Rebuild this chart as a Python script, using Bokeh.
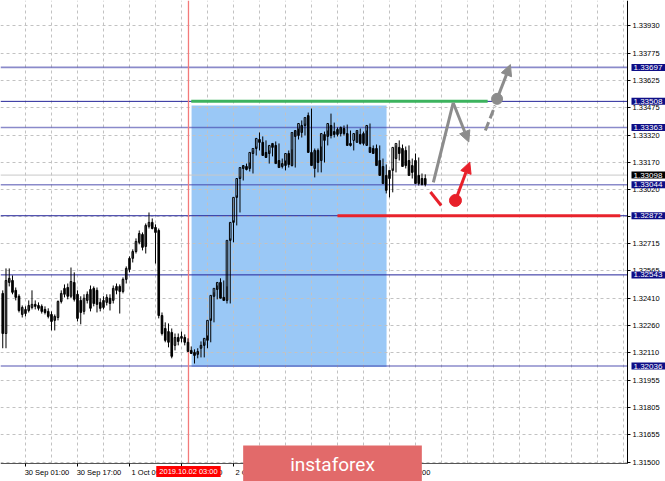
from bokeh.plotting import figure
from bokeh.models import Range1d, FixedTicker, Label, Arrow, NormalHead
from bokeh.embed import file_html
from bokeh.resources import INLINE

# ---------------- data ----------------
bars = list(range(-7, 124))  # hourly bar index, 0 = 30 Sep 01:00
opens = [1.32440, 1.32217, 1.32501, 1.32512, 1.32457, 1.32424, 1.32323, 1.32328, 1.32345, 1.32362,
         1.32379, 1.32373, 1.32368, 1.32351, 1.32340, 1.32323, 1.32290, 1.32306, 1.32395, 1.32435,
         1.32473, 1.32424, 1.32501, 1.32435, 1.32401, 1.32340, 1.32401, 1.32357, 1.32468, 1.32457,
         1.32390, 1.32362, 1.32390, 1.32413, 1.32401, 1.32457, 1.32479, 1.32451, 1.32518, 1.32573,
         1.32635, 1.32673, 1.32724, 1.32768, 1.32701, 1.32813, 1.32835, 1.32807, 1.32790, 1.32317,
         1.32245, 1.32168, 1.32223, 1.32151, 1.32195, 1.32190, 1.32195, 1.32168, 1.32123, 1.32112,
         1.32101, 1.32135, 1.32151, 1.32179, 1.32290, 1.32424, 1.32462, 1.32501, 1.32418, 1.32401,
         1.32735, 1.32835, 1.32974, 1.33079, 1.33135, 1.33146, 1.33135, 1.33218, 1.33246, 1.33296,
         1.33280, 1.33224, 1.33218, 1.33252, 1.33263, 1.33179, 1.33146, 1.33151, 1.33218, 1.33151,
         1.33313, 1.33318, 1.33335, 1.33374, 1.33429, 1.33224, 1.33135, 1.33235, 1.33179, 1.33291,
         1.33313, 1.33374, 1.33340, 1.33324, 1.33329, 1.33357, 1.33329, 1.33274, 1.33291, 1.33280,
         1.33324, 1.33274, 1.33263, 1.33252, 1.33246, 1.33246, 1.33179, 1.33146, 1.33096, 1.33079,
         1.33124, 1.33190, 1.33252, 1.33246, 1.33235, 1.33179, 1.33151, 1.33179, 1.33096, 1.33079,
         1.33079]
highs = [1.32457, 1.32579, 1.32579, 1.32540, 1.32473, 1.32435, 1.32373, 1.32368, 1.32401, 1.32457,
         1.32401, 1.32390, 1.32379, 1.32368, 1.32357, 1.32340, 1.32323, 1.32401, 1.32457, 1.32490,
         1.32495, 1.32584, 1.32557, 1.32457, 1.32424, 1.32435, 1.32451, 1.32484, 1.32479, 1.32473,
         1.32413, 1.32424, 1.32435, 1.32435, 1.32484, 1.32495, 1.32490, 1.32529, 1.32590, 1.32646,
         1.32685, 1.32746, 1.32790, 1.32779, 1.32829, 1.32890, 1.32857, 1.32824, 1.32801, 1.32334,
         1.32279, 1.32273, 1.32245, 1.32217, 1.32217, 1.32228, 1.32212, 1.32190, 1.32145, 1.32129,
         1.32135, 1.32173, 1.32168, 1.32206, 1.32301, 1.32446, 1.32484, 1.32524, 1.32512, 1.32479,
         1.32746, 1.32846, 1.32985, 1.33090, 1.33151, 1.33162, 1.33168, 1.33235, 1.33257, 1.33335,
         1.33313, 1.33291, 1.33235, 1.33274, 1.33285, 1.33274, 1.33190, 1.33179, 1.33235, 1.33241,
         1.33346, 1.33357, 1.33402, 1.33385, 1.33446, 1.33468, 1.33246, 1.33246, 1.33257, 1.33340,
         1.33346, 1.33440, 1.33390, 1.33363, 1.33368, 1.33374, 1.33379, 1.33346, 1.33291, 1.33340,
         1.33357, 1.33340, 1.33346, 1.33385, 1.33263, 1.33268, 1.33263, 1.33190, 1.33157, 1.33124,
         1.33135, 1.33263, 1.33291, 1.33268, 1.33257, 1.33263, 1.33190, 1.33218, 1.33196, 1.33107,
         1.33102]
lows = [1.32135, 1.32135, 1.32479, 1.32435, 1.32401, 1.32334, 1.32306, 1.32312, 1.32334, 1.32351,
        1.32351, 1.32345, 1.32328, 1.32323, 1.32301, 1.32234, 1.32234, 1.32290, 1.32384, 1.32418,
        1.32407, 1.32413, 1.32395, 1.32284, 1.32268, 1.32323, 1.32384, 1.32340, 1.32368, 1.32334,
        1.32340, 1.32351, 1.32373, 1.32345, 1.32384, 1.32435, 1.32328, 1.32440, 1.32495, 1.32557,
        1.32612, 1.32662, 1.32713, 1.32679, 1.32662, 1.32801, 1.32796, 1.32606, 1.32301, 1.32206,
        1.32168, 1.32140, 1.32079, 1.32123, 1.32151, 1.32168, 1.32151, 1.32168, 1.32106, 1.32050,
        1.32079, 1.32084, 1.32084, 1.32135, 1.32168, 1.32279, 1.32407, 1.32446, 1.32401, 1.32384,
        1.32384, 1.32724, 1.32818, 1.32890, 1.33068, 1.33124, 1.33118, 1.33107, 1.33207, 1.33235,
        1.33263, 1.33196, 1.33162, 1.33202, 1.33241, 1.33151, 1.33135, 1.33124, 1.33140, 1.33146,
        1.33140, 1.33296, 1.33307, 1.33318, 1.33363, 1.33218, 1.33085, 1.33113, 1.33113, 1.33168,
        1.33263, 1.33302, 1.33307, 1.33313, 1.33313, 1.33318, 1.33307, 1.33257, 1.33235, 1.33280,
        1.33268, 1.33263, 1.33263, 1.33252, 1.33218, 1.33207, 1.33135, 1.33090, 1.32996, 1.32974,
        1.33002, 1.33113, 1.33179, 1.33207, 1.33135, 1.33124, 1.33079, 1.33102, 1.33040, 1.33040,
        1.33035]
closes = [1.32217, 1.32512, 1.32524, 1.32446, 1.32418, 1.32345, 1.32362, 1.32351, 1.32373, 1.32379,
          1.32368, 1.32357, 1.32340, 1.32334, 1.32312, 1.32284, 1.32312, 1.32395, 1.32440, 1.32468,
          1.32424, 1.32506, 1.32407, 1.32301, 1.32334, 1.32413, 1.32435, 1.32462, 1.32384, 1.32379,
          1.32357, 1.32401, 1.32418, 1.32384, 1.32468, 1.32479, 1.32451, 1.32518, 1.32579, 1.32635,
          1.32673, 1.32729, 1.32773, 1.32696, 1.32818, 1.32835, 1.32801, 1.32779, 1.32317, 1.32217,
          1.32179, 1.32228, 1.32090, 1.32195, 1.32173, 1.32201, 1.32168, 1.32117, 1.32106, 1.32095,
          1.32117, 1.32151, 1.32190, 1.32290, 1.32429, 1.32468, 1.32501, 1.32413, 1.32401, 1.32735,
          1.32835, 1.32974, 1.33079, 1.33140, 1.33151, 1.33129, 1.33224, 1.33246, 1.33302, 1.33280,
          1.33207, 1.33196, 1.33263, 1.33274, 1.33162, 1.33140, 1.33162, 1.33218, 1.33157, 1.33335,
          1.33346, 1.33385, 1.33374, 1.33418, 1.33224, 1.33151, 1.33235, 1.33168, 1.33329, 1.33324,
          1.33385, 1.33318, 1.33324, 1.33352, 1.33363, 1.33329, 1.33263, 1.33263, 1.33329, 1.33346,
          1.33274, 1.33329, 1.33374, 1.33224, 1.33218, 1.33151, 1.33096, 1.33051, 1.33013, 1.33124,
          1.33252, 1.33274, 1.33218, 1.33146, 1.33151, 1.33096, 1.33113, 1.33051, 1.33051, 1.33046,
          1.33046]

price_ticks = [1.31500, 1.31655, 1.31805, 1.31955, 1.32110, 1.32260, 1.32410, 1.32565, 1.32715,
               1.32870, 1.33020, 1.33170, 1.33320, 1.33475, 1.33625, 1.33775, 1.33930]
price_tick_labels = ["1.31500", "1.31655", "1.31805", "1.31955", "1.32110", "1.32260", "1.32410",
                     "1.32565", "1.32715", "1.32870", "1.33020", "1.33170", "1.33320", "1.33475",
                     "1.33625", "1.33775", "1.33930"]
time_ticks = [-16, 0, 16, 32, 48, 64, 80, 96, 112]
time_tick_labels = ["27 Sep 09:00", "30 Sep 01:00", "30 Sep 17:00", "1 Oct 09:00", "2 Oct 01:00",
                    "2 Oct 17:00", "3 Oct 09:00", "4 Oct 01:00", "4 Oct 17:00"]
time_grid = [-8, 0, 8, 16, 24, 32, 40, 48, 56, 64, 72, 80, 88, 96, 104, 112, 120, 128, 136, 144,
             152, 160, 168, 176, 184]

dark_levels = [1.33508, 1.32872, 1.32543]
light_levels = [1.33697, 1.33363, 1.33044, 1.32036]
level_labels = ["1.33697", "1.33508", "1.33363", "1.33044", "1.32872", "1.32543", "1.32036"]
level_prices = [1.33697, 1.33508, 1.33363, 1.33044, 1.32872, 1.32543, 1.32036]
bid_price = 1.33098
bid_label = "1.33098"

marker_bar = 50.15
marker_label = "2019.10.02 03:00"

zone_left, zone_right, zone_top, zone_bottom = 51.1, 111.1, 1.33485, 1.32030
green_x, green_y = [51.0, 142.2], [1.33508, 1.33508]
red_x, red_y = [96.0, 183.0], [1.32872, 1.32872]

gray_path_x = [125.5, 131.6]
gray_path_y = [1.33057, 1.33500]
gray_arrow1 = (131.6, 1.33500, 136.4, 1.33282)
gray_dash_x = [141.5, 144.5]
gray_dash_y = [1.33346, 1.33485]
gray_dot = (145.1, 1.33522)
gray_arrow2 = (145.1, 1.33522, 149.2, 1.33713)
red_dash_x = [124.6, 127.9]
red_dash_y = [1.33004, 1.32929]
red_dot = (132.3, 1.32957)
red_arrow = (132.3, 1.32957, 136.7, 1.33170)

watermark_text = "instaforex"

# ---------------- geometry ----------------
FONT = "Liberation Sans"
W, H = 665, 481
CHART_W, CHART_H = 627, 463           # price area; the scales live to the right / below
BAR_PX = 3.25                         # pixels per hourly bar
X0 = -7.69
X_EDGE = X0 + CHART_W / BAR_PX
X1 = X0 + W / BAR_PX
Y1 = 1.34069
PX_PER_PRICE = 463 / 0.02575
Y_EDGE = Y1 - CHART_H / PX_PER_PRICE
Y0 = Y1 - H / PX_PER_PRICE

p = figure(width=W, height=H, output_backend="svg", toolbar_location=None,
           x_range=Range1d(X0, X1), y_range=Range1d(Y0, Y1),
           y_axis_location="right", min_border=0,
           min_border_left=0, min_border_top=0, min_border_right=0, min_border_bottom=0)
p.outline_line_color = None
p.background_fill_color = "white"
p.border_fill_color = "white"

# axes placed at the edge of the price area
label_shift = 21.5 / BAR_PX
label_pos = [t + label_shift for t in time_ticks]
p.yaxis.fixed_location = X_EDGE
p.yaxis.bounds = (Y_EDGE, Y1)
p.yaxis.ticker = FixedTicker(ticks=price_ticks, minor_ticks=[])
p.yaxis.major_label_overrides = dict(zip(price_ticks, price_tick_labels))
p.xaxis.fixed_location = Y_EDGE
p.xaxis.bounds = (X0 - 20, X_EDGE)
p.xaxis.ticker = FixedTicker(ticks=label_pos, minor_ticks=time_ticks)
p.xaxis.major_label_overrides = dict(zip(label_pos, time_tick_labels))
for ax in (p.xaxis, p.yaxis):
    ax.axis_line_color = "black"
    ax.major_tick_line_color = "black"
    ax.major_tick_in = 0
    ax.major_tick_out = 3
    ax.minor_tick_line_color = None
    ax.major_label_text_font = FONT
    ax.major_label_text_font_size = "7.5px"
    ax.major_label_text_color = "black"
    ax.major_label_standoff = 2
p.xaxis.major_tick_line_color = None
p.xaxis.minor_tick_line_color = "black"
p.xaxis.minor_tick_in = 0
p.xaxis.minor_tick_out = 3
p.xaxis.major_label_standoff = 1
p.xaxis.axis_line_color = "#555555"

# grid (dashed), limited to the price area
p.xgrid.ticker = FixedTicker(ticks=time_grid)
grid_ok = True
try:
    p.xgrid.bounds = (X0, X_EDGE)
    p.xgrid.cross_bounds = (Y_EDGE, Y1)
    p.ygrid.bounds = (Y_EDGE, Y1)
    p.ygrid.cross_bounds = (X0, X_EDGE)
except Exception:
    grid_ok = False
for g in (p.xgrid, p.ygrid):
    g.grid_line_color = "#c2c2c2" if grid_ok else None
    g.grid_line_dash = "3 3"
    g.grid_line_width = 1
if not grid_ok:
    gx = [t for t in time_grid if X0 < t < X_EDGE]
    p.segment(x0=gx, y0=[Y_EDGE] * len(gx), x1=gx, y1=[Y1] * len(gx),
              line_color="#c2c2c2", line_dash="3 3", level="underlay")
    p.segment(x0=[X0] * len(price_ticks), y0=price_ticks, x1=[X_EDGE] * len(price_ticks),
              y1=price_ticks, line_color="#c2c2c2", line_dash="3 3", level="underlay")

# analysis zone (drawn below grid)
p.quad(left=[zone_left], right=[zone_right], top=[zone_top], bottom=[zone_bottom],
       fill_color="#9ac8f6", line_color=None, level="image")

# horizontal levels
nl, nd = len(light_levels), len(dark_levels)
p.segment(x0=[X0] * nl, y0=light_levels, x1=[X_EDGE] * nl, y1=light_levels,
          line_color="#3c3ca6", line_alpha=0.6, line_width=1.6)
p.segment(x0=[X0] * nd, y0=dark_levels, x1=[X_EDGE] * nd, y1=dark_levels,
          line_color="#24249a", line_width=1)
p.segment(x0=[X0], y0=[bid_price], x1=[X_EDGE], y1=[bid_price], line_color="#c8c8c8", line_width=1)
p.segment(x0=[marker_bar], y0=[Y_EDGE], x1=[marker_bar], y1=[Y1], line_color="#f47a7a",
          line_width=1.3)

p.line(green_x, green_y, line_color="#3cb35e", line_width=3)
p.line(red_x, red_y, line_color="#e8232c", line_width=3)

# candles
bull_x = [b for b, o, c in zip(bars, opens, closes) if c >= o]
bull_top = [c for o, c in zip(opens, closes) if c >= o]
bull_bot = [o for o, c in zip(opens, closes) if c >= o]
bear_x = [b for b, o, c in zip(bars, opens, closes) if c < o]
bear_top = [o for o, c in zip(opens, closes) if c < o]
bear_bot = [c for o, c in zip(opens, closes) if c < o]
p.segment(x0=bars, y0=lows, x1=bars, y1=highs, line_color="black", line_width=1)
p.vbar(x=bull_x, top=bull_top, bottom=bull_bot, width=0.5, fill_color=None,
       line_color="black", line_width=1)
p.vbar(x=bear_x, top=bear_top, bottom=bear_bot, width=0.5, fill_color="black",
       line_color="black", line_width=1)

# forecast drawings
GRAY = "#8c8c8c"
RED = "#e8202a"
p.line(gray_path_x, gray_path_y, line_color=GRAY, line_width=3)
p.add_layout(Arrow(end=NormalHead(size=11, fill_color=GRAY, line_color=GRAY),
                   x_start=gray_arrow1[0], y_start=gray_arrow1[1],
                   x_end=gray_arrow1[2], y_end=gray_arrow1[3],
                   line_color=GRAY, line_width=3))
p.line(gray_dash_x, gray_dash_y, line_color=GRAY, line_width=3, line_dash="9 4")
p.scatter([gray_dot[0]], [gray_dot[1]], size=11, fill_color=GRAY, line_color=GRAY)
p.add_layout(Arrow(end=NormalHead(size=11, fill_color=GRAY, line_color=GRAY),
                   x_start=gray_arrow2[0], y_start=gray_arrow2[1],
                   x_end=gray_arrow2[2], y_end=gray_arrow2[3],
                   line_color=GRAY, line_width=3))
p.line(red_dash_x, red_dash_y, line_color=RED, line_width=3)
p.scatter([red_dot[0]], [red_dot[1]], size=12, fill_color=RED, line_color=RED)
p.add_layout(Arrow(end=NormalHead(size=11, fill_color=RED, line_color=RED),
                   x_start=red_arrow[0], y_start=red_arrow[1],
                   x_end=red_arrow[2], y_end=red_arrow[3],
                   line_color=RED, line_width=3))

# price labels on the right scale
lab_x = X_EDGE + 4 / BAR_PX
for txt, pr in zip(level_labels, level_prices):
    p.add_layout(Label(x=lab_x, y=pr, text=txt,
                       text_align="left", text_baseline="middle",
                       text_font=FONT, text_font_size="8px", text_color="white",
                       background_fill_color="#0e0e86",
                       padding=dict(left=2, right=3, top=1, bottom=1)))
p.add_layout(Label(x=lab_x, y=bid_price, text=bid_label,
                   text_align="left", text_baseline="middle",
                   text_font=FONT, text_font_size="8px", text_color="white",
                   background_fill_color="black",
                   padding=dict(left=2, right=3, top=1, bottom=1)))

# time marker label below the price area
p.add_layout(Label(x=marker_bar, y=Y_EDGE - 8 / PX_PER_PRICE, text=marker_label,
                   text_align="center", text_baseline="middle",
                   text_font=FONT, text_font_size="7.5px", text_color="white",
                   background_fill_color="#ff0000",
                   padding=dict(left=3, right=3, top=1, bottom=1)))

# watermark
p.add_layout(Label(x=X0 + 332 / BAR_PX, y=Y1 - 466 / PX_PER_PRICE, text=watermark_text,
                   text_align="center", text_baseline="middle",
                   text_font="Roboto", text_font_size="19px", text_color="white",
                   background_fill_color="#e26a6a",
                   padding=dict(left=47, right=47, top=7, bottom=12)))

open("out.html", "w").write(file_html(p, INLINE))
